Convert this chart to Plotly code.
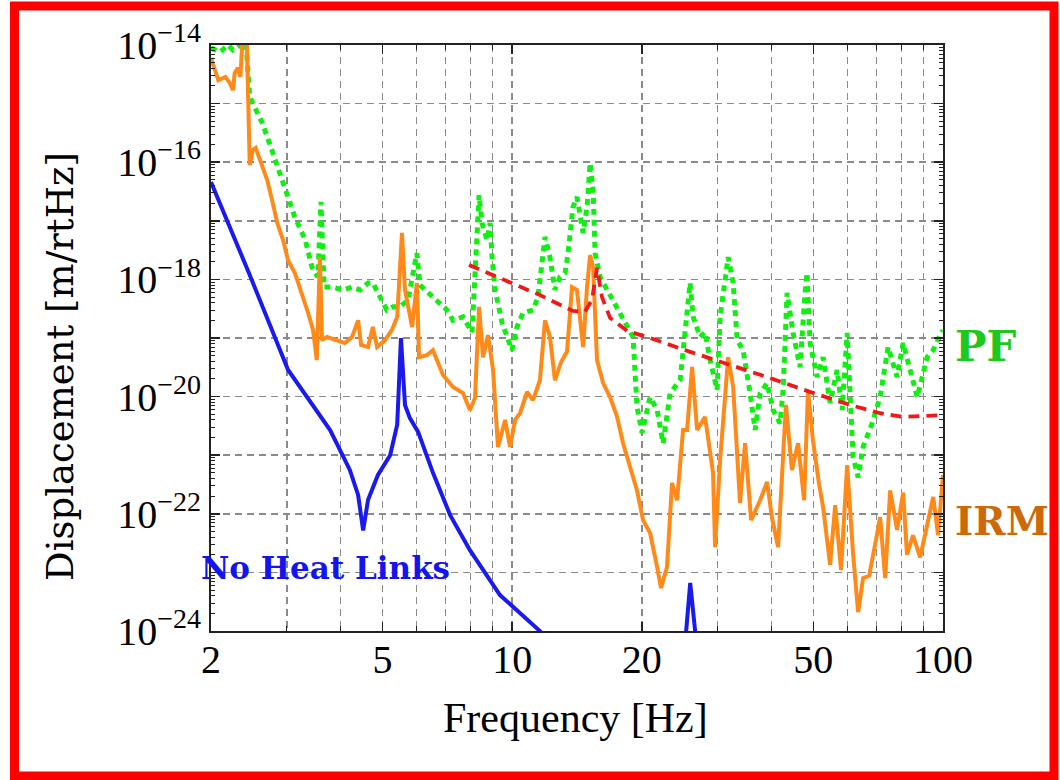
import math
import plotly.graph_objects as go

# ---------------- data ----------------
pf_f = [2.00, 2.10, 2.19, 2.25, 2.34, 2.40, 2.46, 2.63, 2.77, 2.97, 3.13, 3.31, 3.43, 3.54, 3.60, 3.66,
        3.82, 4.05, 4.25, 4.44, 4.63, 4.75, 4.93, 5.12, 5.29, 5.49, 5.73, 6.01, 6.11, 6.55, 6.80, 7.06,
        7.29, 7.69, 8.07, 8.20, 8.38, 8.51, 8.74, 8.89, 8.98, 9.13, 9.48, 9.99, 10.26, 10.60, 11.18,
        11.48, 11.92, 12.24, 12.57, 12.91, 13.27, 13.48, 13.84, 14.14, 14.61, 14.92, 15.17, 15.41,
        15.58, 16.00, 16.61, 17.52, 18.48, 19.08, 19.49, 20.02, 20.90, 21.70, 22.41, 23.26, 24.54,
        25.47, 25.88, 26.30, 27.30, 28.04, 28.80, 29.90, 30.39, 31.72, 32.58, 33.29, 34.36, 35.67,
        36.64, 37.63, 39.06, 40.34, 41.87, 42.55, 43.46, 44.87, 46.58, 47.84, 48.36, 49.15, 51.03,
        52.69, 54.70, 56.79, 58.33, 59.91, 60.9, 61.87, 63.54, 65.25, 68.47, 71.46, 74.58, 78.26,
        80.82, 83.04, 87.12, 91.90, 94.91, 98.5, 100]
pf_v = [8.9e-15, 7.6e-15, 1.0e-14, 8.2e-15, 1.0e-14, 1.8e-14, 1.3e-15, 4.7e-16, 1.6e-16, 3.4e-17,
        1.16e-17, 4.7e-18, 1.63e-18, 1.1e-18, 2.1e-17, 7.4e-19, 7.4e-19, 6.6e-19, 7.4e-19, 6.6e-19,
        8.7e-19, 8.7e-19, 5.0e-19, 3.0e-19, 3.4e-19, 3.4e-19, 4.45e-19, 2.8e-18, 8.0e-19, 5.0e-19,
        4.0e-19, 3.0e-19, 2.0e-19, 2.3e-19, 1.26e-19, 1.29e-18, 2.75e-17, 9.2e-18, 4.7e-18, 9.2e-18,
        2.4e-18, 6.6e-19, 1.8e-19, 6.2e-20, 1.54e-19, 2.7e-19, 3.0e-19, 5.0e-19, 5.3e-18, 2.4e-18,
        6.6e-19, 1.1e-18, 1.29e-18, 2.8e-18, 1.7e-17, 2.55e-17, 6.2e-18, 1.7e-17, 9.7e-17, 3.4e-17,
        2.8e-18, 1.1e-18, 6.6e-19, 3.4e-19, 1.54e-19, 1.04e-19, 6.6e-21, 2.4e-21, 9.8e-21, 5.9e-21,
        1.6e-21, 1.15e-20, 1.9e-20, 2.3e-19, 8.7e-19, 2.3e-19, 1.04e-19, 1.26e-19, 4.2e-20, 1.3e-20,
        2.3e-19, 2.4e-18, 8.7e-19, 9.2e-20, 6.2e-20, 1.15e-20, 2.7e-21, 1.15e-20, 1.7e-20, 5.9e-21,
        3.5e-21, 1.3e-20, 5.9e-19, 1.22e-19, 3.2e-20, 5.9e-19, 1.29e-18, 8.2e-20, 2.16e-20, 4.7e-20,
        7.8e-21, 2.85e-20, 5.9e-21, 1.22e-19, 8.7e-21, 9.3e-22, 4.2e-22, 1.38e-21, 3.5e-21, 9.8e-21,
        7.0e-20, 2.16e-20, 8.2e-20, 3.7e-20, 9.8e-21, 4.7e-20, 6.2e-20, 1.12e-19, 1.35e-19]

irm_f = [2.00, 2.04, 2.08, 2.16, 2.21, 2.25, 2.27, 2.31, 2.34, 2.37, 2.42, 2.46, 2.50, 2.54, 2.60,
         2.70, 2.77, 2.85, 2.94, 3.02, 3.13, 3.25, 3.36, 3.45, 3.52, 3.58, 3.62, 3.72, 3.88, 4.09,
         4.25, 4.39, 4.46, 4.63, 4.75, 4.86, 5.07, 5.26, 5.41, 5.55, 5.64, 5.86, 6.01, 6.08, 6.34,
         6.55, 6.91, 7.29, 7.69, 7.98, 8.20, 8.38, 8.56, 8.79, 9.03, 9.27, 9.63, 9.89, 10.16, 10.43,
         10.83, 11.18, 11.6, 11.92, 12.24, 12.57, 12.99, 13.41, 13.77, 14.14, 14.61, 14.92, 15.17,
         15.41, 15.74, 16.26, 16.88, 17.52, 18.09, 18.78, 19.49, 20.13, 20.90, 21.70, 22.16, 22.88,
         23.50, 24.14, 24.93, 25.47, 26.16, 26.87, 28.04, 29.26, 29.58, 30.39, 31.72, 32.58, 33.8,
         34.72, 35.86, 37.63, 39.06, 40.1, 41.42, 43.2, 44.6, 46.1, 47.6, 48.6, 49.9, 51.6, 52.69,
         54.70, 56.2, 58.0, 59.91, 61.87, 63.54, 65.25, 67.4, 69.9, 71.46, 73.4, 75.4, 78.26, 80.82,
         82.5, 85.2, 88.5, 91.90, 94.91, 97.4, 100]
irm_v = [6.0e-15, 3.7e-15, 2.5e-15, 2.85e-15, 2.25e-15, 1.7e-15, 3.3e-15, 4.1e-15, 2.85e-15, 1.5e-14,
         1.5e-14, 8.9e-17, 1.6e-16, 1.75e-16, 1.09e-16, 5.0e-17, 2.3e-17, 9.2e-18, 4.7e-18, 2.1e-18,
         1.29e-18, 5.9e-19, 2.7e-19, 1.37e-19, 4.2e-20, 2.4e-18, 9.2e-20, 1.04e-19, 9.2e-20, 8.2e-20,
         1.04e-19, 2.0e-19, 7.6e-20, 7.0e-20, 1.54e-19, 7.0e-20, 9.2e-20, 1.37e-19, 2.3e-19, 6.2e-18,
         6.6e-19, 1.54e-19, 8.7e-19, 4.7e-20, 5.1e-20, 6.2e-20, 2.34e-20, 1.46e-20, 1.15e-20, 5.9e-21,
         9.5e-21, 3.4e-19, 4.7e-20, 1.12e-19, 2.85e-20, 1.38e-21, 4.0e-21, 1.38e-21, 4.0e-21, 5.2e-21,
         1.2e-20, 8.7e-21, 1.9e-20, 2.0e-19, 1.04e-19, 1.9e-20, 3.9e-20, 5.9e-20, 7.4e-19, 6.6e-19,
         7.0e-20, 7.4e-19, 2.6e-18, 1.63e-18, 4.2e-20, 1.7e-20, 9.8e-21, 4.5e-21, 1.6e-21, 6.3e-22,
         2.5e-22, 7.8e-23, 4.7e-23, 1.24e-23, 5.4e-24, 1.24e-23, 3.36e-22, 1.7e-22, 2.7e-21, 2.7e-21,
         3.2e-20, 2.7e-21, 4.5e-21, 5.0e-22, 2.7e-23, 8.3e-22, 4.7e-20, 1.46e-20, 1.53e-22, 1.6e-21,
         7.8e-23, 1.7e-22, 3.5e-22, 8.5e-23, 2.7e-23, 7.2e-21, 5.6e-22, 1.6e-21, 1.7e-22, 1.3e-20,
         1.8e-21, 3.1e-22, 1.3e-22, 1.34e-23, 1.4e-22, 1.1e-23, 6.8e-22, 2.0e-23, 2.1e-24, 8.0e-24,
         8.8e-24, 3.6e-23, 8.8e-23, 8.0e-24, 2.5e-22, 5.3e-23, 2.3e-22, 2.0e-23, 4.3e-23, 1.8e-23,
         6.0e-23, 1.94e-22, 4.3e-23, 4.6e-22]

req_f = [7.94, 9.37, 11.6, 13.84, 14.76, 15.32, 15.74, 16.16, 16.88, 18.48, 20.9, 25.9, 32.0, 39.7,
         49.2, 60.9, 71.5, 80.8, 100]
req_v = [1.76e-18, 1.06e-18, 5.4e-19, 2.9e-19, 2.8e-19, 4.5e-19, 1.57e-18, 5.0e-19, 2.2e-19, 1.32e-19,
         1.0e-19, 5.8e-20, 3.5e-20, 2.07e-20, 1.2e-20, 7.2e-21, 5.2e-21, 4.5e-21, 4.85e-21]

nhl_f = [2.0, 2.46, 3.02, 3.78, 4.20, 4.39, 4.51, 4.63, 4.88, 5.21, 5.41, 5.52, 5.64, 5.79, 6.05,
         6.55, 7.18, 7.98, 9.37, 11.6, 14.0, 24.8, 25.9, 27.3, 30.0]
nhl_v = [4.6e-17, 1.19e-18, 2.85e-20, 2.69e-21, 5.6e-22, 2.1e-22, 5.2e-23, 1.74e-22, 4.6e-22, 1.0e-21,
         3.3e-21, 1.0e-19, 7.2e-21, 4.3e-21, 2.5e-21, 5.0e-22, 9.5e-23, 2.4e-23, 4.1e-24, 1.0e-24,
         1.5e-25, 1.5e-25, 6.6e-24, 1.5e-25, 1.0e-25]

x_major = [2, 5, 10, 20, 50, 100]
x_minor = [3, 4, 6, 7, 8, 9, 30, 40, 60, 70, 80, 90]
y_exponents = list(range(-24, -13))
y_labelled = [-24, -22, -20, -18, -16, -14]

# ---------------- figure ----------------
W, H = 1060, 780
L, R, T, B = 211, 117, 45, 149
PW, PH = W - L - R, H - T - B


def px(x):
    return (x - L) / PW


def py(y):
    return (H - B - y) / PH


fig = go.Figure()
fig.add_trace(go.Scatter(x=pf_f, y=pf_v, mode="lines", name="PF",
                         line=dict(color="#11ee11", width=5, dash="6px,5px")))
fig.add_trace(go.Scatter(x=irm_f, y=irm_v, mode="lines", name="IRM",
                         line=dict(color="#ff8a1a", width=4)))
fig.add_trace(go.Scatter(x=req_f, y=req_v, mode="lines", name="Requirement",
                         line=dict(color="#ee1a1a", width=3.8, dash="11px,7px")))
fig.add_trace(go.Scatter(x=nhl_f, y=nhl_v, mode="lines", name="No Heat Links",
                         line=dict(color="#1a1aee", width=4)))

grid_col = "#8a8a8a"
fig.update_xaxes(
    type="log", range=[math.log10(2), 2],
    tickmode="array", tickvals=x_major, ticktext=[str(v) for v in x_major],
    ticks="inside", ticklen=9, tickwidth=1.5, tickcolor="#222",
    showline=True, linecolor="#222", linewidth=2, mirror="ticks",
    showgrid=True, gridcolor=grid_col, gridwidth=1.5, griddash="7px,5px",
    minor=dict(tickmode="array", tickvals=x_minor, ticks="inside", ticklen=5, tickwidth=1.2,
               tickcolor="#222", showgrid=True, gridcolor=grid_col, gridwidth=1.5,
               griddash="7px,5px"),
    tickfont=dict(family="Liberation Serif", size=40, color="black"),
    ticklabelstandoff=-8,
    zeroline=False,
)
fig.update_yaxes(
    type="log", range=[-24, -14],
    tickmode="array", tickvals=[10.0 ** e for e in y_exponents],
    ticktext=[("10<sup>\u2212%d</sup>" % (-e)) if e in y_labelled else "" for e in y_exponents],
    ticks="inside", ticklen=9, tickwidth=1.5, tickcolor="#222",
    showline=True, linecolor="#222", linewidth=2, mirror="ticks",
    showgrid=True, gridcolor=grid_col, gridwidth=1.5, griddash="7px,5px",
    minor=dict(tickmode="array",
               tickvals=[m * 10.0 ** e for e in y_exponents[:-1] for m in range(2, 10)],
               ticks="inside", ticklen=4, tickwidth=1, tickcolor="#222", showgrid=False),
    tickfont=dict(family="Liberation Serif", size=40, color="black"),
    zeroline=False,
)

annotations = [
    dict(text="Frequency [Hz]", x=px(575), y=py(718), xref="paper", yref="paper",
         showarrow=False, xanchor="center", yanchor="middle",
         font=dict(family="Liberation Serif", size=42, color="black")),
    dict(text="Displacement [m/rtHz]", x=px(60), y=py(367), xref="paper", yref="paper",
         showarrow=False, xanchor="center", yanchor="middle", textangle=-90,
         font=dict(family="DejaVu Serif", size=37, color="black")),
    dict(text="<b>PF</b>", x=px(953), y=py(346), xref="paper", yref="paper",
         showarrow=False, xanchor="left", yanchor="middle",
         font=dict(family="DejaVu Serif", size=42, color="#1ec81e")),
    dict(text="<b>IRM</b>", x=px(953), y=py(521), xref="paper", yref="paper",
         showarrow=False, xanchor="left", yanchor="middle",
         font=dict(family="DejaVu Serif", size=39, color="#cc6a0a")),
    dict(text="<b>No Heat Links</b>", x=px(199), y=py(568), xref="paper", yref="paper",
         showarrow=False, xanchor="left", yanchor="middle",
         font=dict(family="DejaVu Serif", size=31, color="#1414ee")),
]

shapes = [
    dict(type="rect", xref="paper", yref="paper",
         x0=px(14.5), x1=px(1054), y0=py(776), y1=py(6),
         line=dict(color="#ff0000", width=9), fillcolor="rgba(0,0,0,0)", layer="above"),
]

fig.update_layout(
    width=W, height=H, autosize=False,
    margin=dict(l=L, r=R, t=T, b=B, autoexpand=False),
    paper_bgcolor="white", plot_bgcolor="white",
    showlegend=False, hovermode=False,
    annotations=annotations, shapes=shapes,
)

fig.write_html("out.html", config={"displayModeBar": False, "staticPlot": True},
               post_script="document.body.style.margin='0px';")
